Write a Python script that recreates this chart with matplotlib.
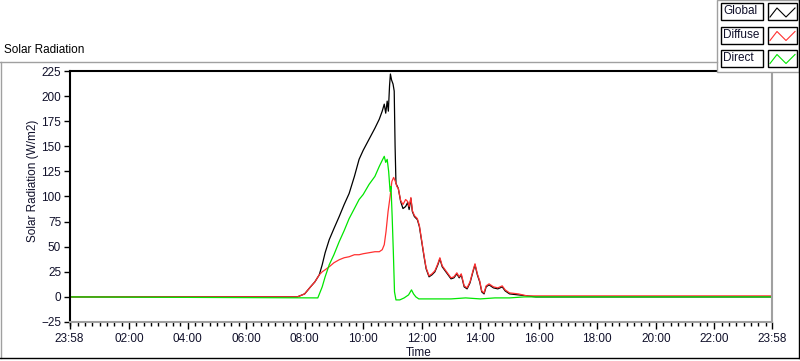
import matplotlib
matplotlib.use("Agg")
import matplotlib.pyplot as plt
from matplotlib.patches import Rectangle
from matplotlib.lines import Line2D
from matplotlib.ticker import FixedLocator, MultipleLocator

plt.rcParams['font.family'] = ['Liberation Sans', 'DejaVu Sans']

# time in hours from midnight (23:58 of previous day = -2/60)
T0 = -2 / 60
T1 = 24 - 2 / 60

global_t = [T0, 7.75, 8.0, 8.2, 8.35, 8.5, 8.6, 8.7, 8.84, 9.0, 9.18, 9.35, 9.52, 9.7,
            9.86, 10.0, 10.2, 10.4, 10.55, 10.65, 10.72, 10.77, 10.82, 10.86, 10.9,
            10.93, 10.97, 11.02, 11.06, 11.09, 11.12, 11.2, 11.28, 11.36, 11.45, 11.52,
            11.57, 11.63, 11.68, 11.75, 11.85, 11.92, 12.0, 12.08, 12.15, 12.25, 12.35,
            12.45, 12.55, 12.62, 12.7, 12.8, 12.9, 13.0, 13.1, 13.2, 13.28, 13.35, 13.45,
            13.55, 13.65, 13.75, 13.82, 13.9, 13.98, 14.05, 14.13, 14.2, 14.3, 14.45,
            14.6, 14.75, 14.85, 15.0, 15.3, 15.6, 15.9, T1]
global_v = [0, 0, 3, 10, 15, 22, 32, 44, 57, 68, 80, 92, 103, 120,
            137, 146, 157, 168, 177, 185, 192, 183, 195, 185, 210,
            222, 216, 212, 205, 150, 113, 108, 95, 88, 90, 94,
            87, 98, 85, 80, 77, 70, 55, 40, 28, 20, 22,
            25, 32, 38, 30, 26, 22, 18, 19, 23, 19, 22, 10,
            8, 14, 25, 32, 22, 15, 5, 3, 10, 12, 9,
            8, 10, 6, 3, 2, 1, 0, 0]

diffuse_t = [T0, 7.75, 8.0, 8.2, 8.35, 8.5, 8.6, 8.7, 8.84, 9.0, 9.18, 9.35, 9.52, 9.7,
             9.86, 10.0, 10.2, 10.4, 10.55, 10.65, 10.72, 10.78, 10.85, 10.92, 10.98,
             11.04, 11.1, 11.15, 11.2, 11.28, 11.36, 11.45, 11.52, 11.57, 11.63, 11.68,
             11.75, 11.85, 11.92, 12.0, 12.08, 12.15, 12.25, 12.35, 12.45, 12.55, 12.62,
             12.7, 12.8, 12.9, 13.0, 13.1, 13.2, 13.28, 13.35, 13.45, 13.55, 13.65, 13.75,
             13.82, 13.9, 13.98, 14.05, 14.13, 14.2, 14.3, 14.45, 14.6, 14.75, 14.85,
             15.0, 15.3, 15.6, 15.9, T1]
diffuse_v = [0, 0, 3, 10, 15, 22, 25, 27, 30, 34, 37, 39, 40, 42,
             42, 43, 44, 45, 45, 47, 52, 65, 85, 100, 115,
             119, 115, 110, 108, 96, 92, 97, 95, 90, 99, 86,
             81, 78, 71, 56, 41, 29, 21, 23, 26, 33, 39,
             31, 27, 23, 19, 20, 24, 20, 23, 11, 9, 15, 26,
             33, 23, 16, 6, 4, 11, 13, 10, 9, 11, 7,
             4, 3, 1, 1, 1]

direct_t = [T0, 8.45, 8.6, 8.7, 8.84, 9.0, 9.18, 9.35, 9.52, 9.7, 9.86, 10.0, 10.2,
            10.4, 10.55, 10.65, 10.72, 10.77, 10.82, 10.87, 10.92, 10.95, 10.99, 11.03,
            11.07, 11.12, 11.25, 11.4, 11.55, 11.65, 11.72, 11.8, 11.9, 12.5, 13.0,
            13.5, 14.0, 14.5, 15.0, 15.5, 16.0, T1]
direct_v = [0, -1, 10, 20, 32, 42, 55, 66, 78, 88, 97, 102, 112,
            120, 130, 136, 140, 134, 137, 125, 105, 110, 80, 45,
            5, -3, -3, -1, 2, 7, 3, 0, -2, -2, -2,
            -1, -2, -1, -1, 0, 0, 0]

x_ticks = [T0, 2, 4, 6, 8, 10, 12, 14, 16, 18, 20, 22, T1]
x_labels = ['23:58', '02:00', '04:00', '06:00', '08:00', '10:00', '12:00',
            '14:00', '16:00', '18:00', '20:00', '22:00', '23:58']
y_ticks = [-25, 0, 25, 50, 75, 100, 125, 150, 175, 200, 225]

series_names = ['Global', 'Diffuse', 'Direct']
series_colors = ['black', '#ff3030', '#00e600']

W, H = 800, 361


def fx(x):
    return x / W


def fy(y):
    return 1 - y / H


fig = plt.figure(figsize=(8, 3.61), dpi=100)
ax = fig.add_axes([fx(69.5), fy(322), fx(772) - fx(69.5), fy(71) - fy(322)])

ax.plot(global_t, global_v, color=series_colors[0], lw=0.9)
ax.plot(diffuse_t, diffuse_v, color=series_colors[1], lw=0.9)
ax.plot(direct_t, direct_v, color=series_colors[2], lw=0.9)

ax.set_xlim(T0, T1)
ax.set_ylim(-25, 225)
ax.xaxis.set_major_locator(FixedLocator(x_ticks))
ax.set_xticklabels(x_labels)
ax.xaxis.set_minor_locator(MultipleLocator(0.25))
ax.set_yticks(y_ticks)
ax.tick_params(axis='x', which='major', length=5, width=1, pad=3, labelsize=8.5,
               labelcolor='#10102a')
ax.tick_params(axis='x', which='minor', length=3, width=1)
ax.tick_params(axis='y', which='major', length=4, width=1, pad=2, labelsize=8.5,
               labelcolor='#10102a')

for side in ['left', 'top']:
    ax.spines[side].set_color('black')
    ax.spines[side].set_linewidth(1.5)
for side in ['right', 'bottom']:
    ax.spines[side].set_color('#a0a0a0')
    ax.spines[side].set_linewidth(1.5)

fig.text(fx(33), fy(181), 'Solar Radiation (W/m2)', rotation=90,
         ha='center', va='center', fontsize=8.5, color='#10102a')
fig.text(fx(419), fy(353), 'Time', ha='center', va='center', fontsize=8.5,
         color='#10102a')
fig.text(fx(4), fy(50), 'Solar Radiation', ha='left', va='center', fontsize=8.5)

# outer frame
fig.add_artist(Line2D([fx(0), fx(717)], [fy(62), fy(62)], color='#a0a0a0', lw=1))
fig.add_artist(Line2D([fx(1), fx(1)], [fy(62), fy(358)], color='#a0a0a0', lw=1))
fig.add_artist(Line2D([fx(0), fx(799)], [fy(358), fy(358)], color='black', lw=1))
fig.add_artist(Line2D([fx(799), fx(799)], [fy(0), fy(358)], color='black', lw=1))

# legend panel
fig.add_artist(Rectangle((fx(717), fy(72)), fx(82), fy(0) - fy(72),
                         facecolor='white', edgecolor='#a0a0a0', lw=1))
row_tops = [3, 26.5, 49.5]
for name, col, top in zip(series_names, series_colors, row_tops):
    h = 17
    fig.add_artist(Rectangle((fx(721), fy(top + h)), fx(42), fy(top) - fy(top + h),
                             facecolor='white', edgecolor='black', lw=1))
    fig.text(fx(723.5), fy(top + h / 2), name, ha='left', va='center', fontsize=8.5,
             color='#10102a')
    fig.add_artist(Rectangle((fx(768), fy(top + h)), fx(29), fy(top) - fy(top + h),
                             facecolor='white', edgecolor='black', lw=1))
    fig.add_artist(Line2D([fx(770), fx(777), fx(786), fx(795)],
                          [fy(top + 14), fy(top + 5), fy(top + 14), fy(top + 5)],
                          color=col, lw=0.8))

fig.savefig('out.png', dpi=100)
